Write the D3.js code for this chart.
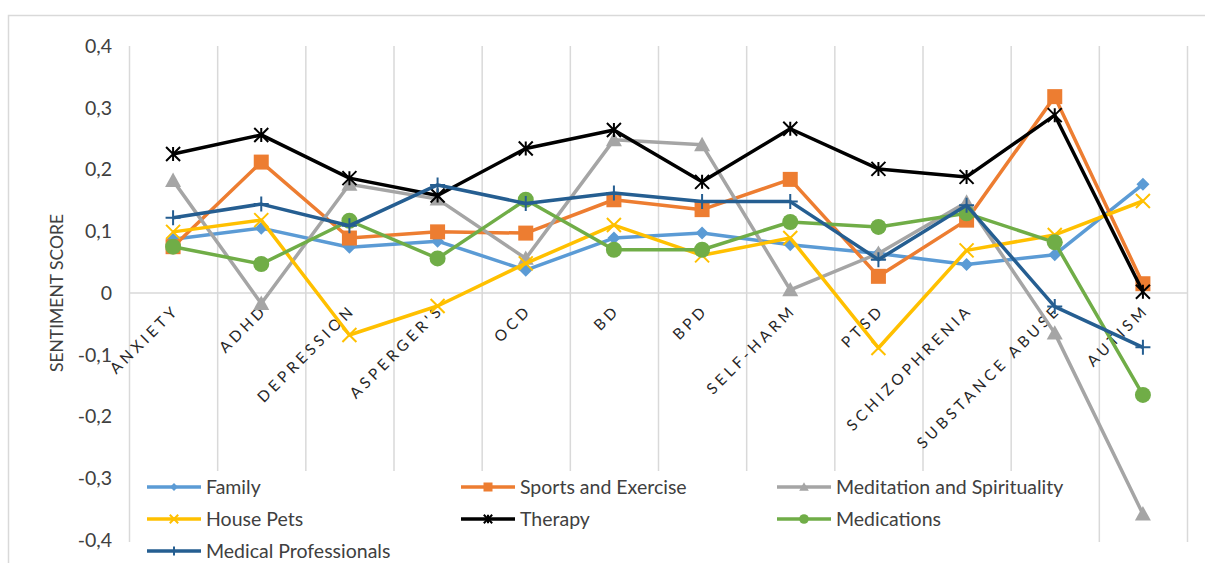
<!DOCTYPE html>
<html>
<head>
<meta charset="utf-8">
<script src="https://cdn.jsdelivr.net/npm/d3@7"></script>
<style>
  body { margin: 0; background: #fff; }
  svg { font-family: Lato, "Liberation Sans", sans-serif; }
</style>
</head>
<body>
<div id="chart"></div>
<script>
const categories = ['ANXIETY', 'ADHD', 'DEPRESSION', "ASPERGER'S", 'OCD', 'BD', 'BPD',
    'SELF-HARM', 'PTSD', 'SCHIZOPHRENIA', 'SUBSTANCE ABUSE', 'AUTISM'];

const family = [0.087, 0.105, 0.074, 0.084, 0.037, 0.089, 0.097, 0.078, 0.064, 0.046, 0.062, 0.176];
const sports = [0.075, 0.212, 0.089, 0.099, 0.097, 0.151, 0.135, 0.184, 0.027, 0.118, 0.318, 0.015];
const meditation = [0.182, -0.017, 0.176, 0.152, 0.056, 0.248, 0.240, 0.005, 0.064, 0.147, -0.065, -0.358];
const housePets = [0.099, 0.118, -0.068, -0.021, 0.048, 0.110, 0.061, 0.089, -0.089, 0.069, 0.094, 0.149];
const therapy = [0.225, 0.256, 0.186, 0.158, 0.234, 0.264, 0.180, 0.266, 0.201, 0.188, 0.288, 0.002];
const medications = [0.075, 0.047, 0.117, 0.056, 0.151, 0.070, 0.070, 0.115, 0.107, 0.129, 0.082, -0.165];
const medicalPros = [0.122, 0.144, 0.109, 0.175, 0.145, 0.162, 0.148, 0.148, 0.054, 0.142, -0.022, -0.088];

const yTicks = [0.4, 0.3, 0.2, 0.1, 0, -0.1, -0.2, -0.3, -0.4];

const series = [
    {name: 'Family', values: family, color: '#5B9BD5', marker: 'diamond'},
    {name: 'Sports and Exercise', values: sports, color: '#ED7D31', marker: 'square'},
    {name: 'Meditation and Spirituality', values: meditation, color: '#A5A5A5', marker: 'triangle'},
    {name: 'House Pets', values: housePets, color: '#FFC000', marker: 'x'},
    {name: 'Therapy', values: therapy, color: '#000000', marker: 'star'},
    {name: 'Medications', values: medications, color: '#70AD47', marker: 'circle'},
    {name: 'Medical Professionals', values: medicalPros, color: '#255E91', marker: 'plus'}
];

const width = 1205;
const height = 563;
const plot = {left: 129, right: 1187, top: 46, bottom: 540};

const svg = d3.select('#chart').append('svg')
    .attr('width', width).attr('height', height);

// chart frame
svg.append('rect')
    .attr('x', 8.5).attr('y', 15.5)
    .attr('width', width + 20).attr('height', height + 20)
    .attr('fill', 'none').attr('stroke', '#d9d9d9').attr('stroke-width', 1.5);

const x = d3.scaleBand()
    .domain(categories)
    .range([plot.left, plot.right]);

const y = d3.scaleLinear()
    .domain([-0.4, 0.4])
    .range([plot.bottom, plot.top]);

// vertical gridlines at category boundaries
const bounds = categories.map(c => x(c)).concat([plot.right]);
svg.append('g')
    .selectAll('line').data(bounds).enter().append('line')
    .attr('x1', d => d + 0.5).attr('x2', d => d + 0.5)
    .attr('y1', plot.top).attr('y2', plot.bottom + 2)
    .attr('stroke', '#d9d9d9').attr('stroke-width', 1.5);

// zero line
svg.append('line')
    .attr('x1', plot.left).attr('x2', plot.right)
    .attr('y1', y(0)).attr('y2', y(0))
    .attr('stroke', '#d9d9d9').attr('stroke-width', 1.5);

// y axis labels
const yAxis = g => g
    .attr('transform', `translate(${plot.left - 14}, 0)`)
    .call(d3.axisLeft(y).tickValues(yTicks).tickSize(0)
        .tickFormat(d => d === 0 ? '0' : d3.format('.1f')(d).replace('.', ',').replace('−', '-')))
    .call(g => g.select('.domain').remove())
    .call(g => g.selectAll('text')
        .attr('font-size', 19.5).attr('fill', '#404040')
        .attr('font-family', 'Lato, "Liberation Sans", sans-serif'));
svg.append('g').call(yAxis);

svg.append('text')
    .attr('transform', `translate(63, ${y(0)}) rotate(-90)`)
    .attr('text-anchor', 'middle')
    .attr('font-size', 17.5).attr('fill', '#404040')
    .text('SENTIMENT SCORE');

// x category labels, rotated
const cx = c => x(c) + x.bandwidth() / 2;
svg.append('g')
    .selectAll('text').data(categories).enter().append('text')
    .attr('transform', d => `translate(${cx(d) + 7}, ${y(0) + 18}) rotate(-45)`)
    .attr('text-anchor', 'end')
    .attr('font-size', 15.3).attr('letter-spacing', 3.8)
    .attr('fill', '#262626')
    .text(d => d);

// markers
function drawMarker(g, type, color, s) {
    const h = s / 2;
    if (type === 'diamond') {
        g.append('path').attr('d', `M0,${-h}L${h},0L0,${h}L${-h},0Z`).attr('fill', color);
    } else if (type === 'square') {
        g.append('rect').attr('x', -h).attr('y', -h).attr('width', s).attr('height', s).attr('fill', color);
    } else if (type === 'triangle') {
        g.append('path').attr('d', `M0,${-h}L${h},${h * 0.8}L${-h},${h * 0.8}Z`).attr('fill', color);
    } else if (type === 'circle') {
        g.append('circle').attr('r', h).attr('fill', color);
    } else if (type === 'x') {
        g.append('path').attr('d', `M${-h},${-h}L${h},${h}M${h},${-h}L${-h},${h}`)
            .attr('stroke', color).attr('stroke-width', 2);
    } else if (type === 'star') {
        g.append('path').attr('d', `M${-h},${-h}L${h},${h}M${h},${-h}L${-h},${h}M0,${-h}L0,${h}`)
            .attr('stroke', color).attr('stroke-width', 2);
    } else if (type === 'plus') {
        g.append('path').attr('d', `M0,${-h}L0,${h}M${-h},0L${h},0`)
            .attr('stroke', color).attr('stroke-width', 2);
    }
}

const markerSize = {diamond: 13, square: 15, triangle: 16, circle: 16, x: 14, star: 14, plus: 15};

const line = d3.line()
    .x((d, i) => cx(categories[i]))
    .y(d => y(d));

for (const s of series) {
    const g = svg.append('g');
    g.append('path')
        .attr('d', line(s.values))
        .attr('fill', 'none')
        .attr('stroke', s.color)
        .attr('stroke-width', 3.5)
        .attr('stroke-linejoin', 'round');
    s.values.forEach((v, i) => {
        const m = g.append('g').attr('transform', `translate(${cx(categories[i])}, ${y(v)})`);
        drawMarker(m, s.marker, s.color, markerSize[s.marker]);
    });
}

// legend
const legend = svg.append('g');
legend.append('rect')
    .attr('x', 136).attr('y', 471).attr('width', 955).attr('height', 92)
    .attr('fill', '#fff');

const legendCols = [147, 461, 777];
const legendRows = [487, 519, 551];
series.forEach((s, i) => {
    const lx = legendCols[i % 3];
    const ly = legendRows[Math.floor(i / 3)];
    const g = legend.append('g').attr('transform', `translate(${lx}, ${ly})`);
    g.append('line').attr('x1', 0).attr('x2', 54).attr('y1', 0).attr('y2', 0)
        .attr('stroke', s.color).attr('stroke-width', 3.5);
    const m = g.append('g').attr('transform', 'translate(27, 0)');
    drawMarker(m, s.marker, s.color, markerSize[s.marker] * 0.6);
    g.append('text').attr('x', 59).attr('y', 7)
        .attr('font-size', 19.5).attr('fill', '#404040')
        .text(s.name);
});
</script>
</body>
</html>
